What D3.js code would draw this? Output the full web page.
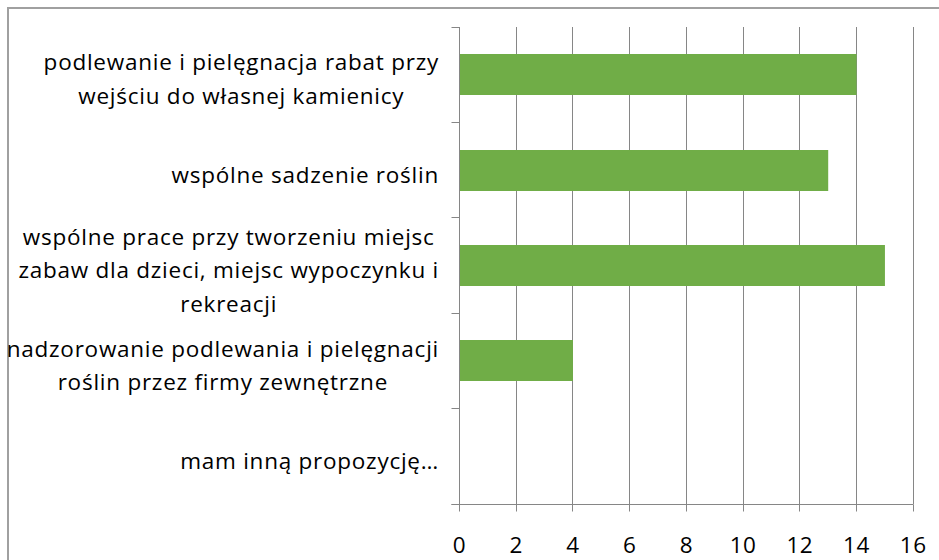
<!DOCTYPE html>
<html>
<head>
<meta charset="utf-8">
<script src="https://cdn.jsdelivr.net/npm/d3@7"></script>
<style>
  body { margin: 0; background: #fff; }
  svg { display: block; }
</style>
</head>
<body>
<div class="chartDiv"></div>
<script>

// ---------------- data ----------------
let categories = [
    ["podlewanie i pielęgnacja rabat przy", "wejściu do własnej kamienicy"],
    ["wspólne sadzenie roślin"],
    ["wspólne prace przy tworzeniu miejsc", "zabaw dla dzieci, miejsc wypoczynku i", "rekreacji"],
    ["nadzorowanie podlewania i pielęgnacji", "roślin przez firmy zewnętrzne"],
    ["mam inną propozycję…"]
];
let values = [14, 13, 15, 4, 0];
let xTicks = [0, 2, 4, 6, 8, 10, 12, 14, 16];

// ---------------- setup ----------------
let W = 939, H = 560;
let plot = {left: 459.5, right: 913.3, top: 27, bottom: 504};
let gridColor = "#868686";
let font = "'Open Sans', sans-serif";

let svg = d3.select(".chartDiv").append("svg")
    .attr("width", W)
    .attr("height", H);

// outer chart border (right/bottom fall outside the picture)
svg.append("rect")
    .attr("x", 8)
    .attr("y", 8)
    .attr("width", W + 20)
    .attr("height", H + 20)
    .attr("fill", "none")
    .attr("stroke", "#a0a0a0")
    .attr("stroke-width", 2)

let x = d3.scaleLinear().domain([0, 16]).range([plot.left, plot.right]);
let y = d3.scaleBand()
    .domain(d3.range(categories.length))
    .range([plot.top, plot.bottom])
    .paddingInner(0.57)
    .paddingOuter(0.285);

let crisp = v => Math.round(v - 0.5) + 0.5;

// vertical gridlines
svg.append("g").selectAll("line")
    .data(xTicks.slice(1))
    .join("line")
    .attr("x1", d => crisp(x(d)))
    .attr("x2", d => crisp(x(d)))
    .attr("y1", plot.top)
    .attr("y2", plot.bottom)
    .attr("stroke", gridColor)
    .attr("stroke-width", 1)

// bars
svg.append("g").selectAll("rect")
    .data(values)
    .join("rect")
    .attr("x", x(0))
    .attr("y", (d, i) => Math.round(y(i)))
    .attr("width", d => x(d) - x(0))
    .attr("height", Math.round(y.bandwidth()))
    .attr("fill", "#70ad47")

// x axis line and ticks
let xAxisG = svg.append("g")
xAxisG.append("line")
    .attr("x1", crisp(x(0)) - 8)
    .attr("x2", crisp(x(16)))
    .attr("y1", crisp(plot.bottom))
    .attr("y2", crisp(plot.bottom))
    .attr("stroke", gridColor)
xAxisG.selectAll(".tick")
    .data(xTicks)
    .join("line")
    .attr("x1", d => crisp(x(d)))
    .attr("x2", d => crisp(x(d)))
    .attr("y1", crisp(plot.bottom))
    .attr("y2", crisp(plot.bottom) + 7)
    .attr("stroke", gridColor)
xAxisG.selectAll("text")
    .data(xTicks)
    .join("text")
    .attr("x", d => x(d))
    .attr("y", 553)
    .attr("text-anchor", "middle")
    .style("font-family", font)
    .style("font-size", "22.5px")
    .style("letter-spacing", "0.6px")
    .attr("fill", "#000")
    .text(d => d)

// y axis line and ticks at band edges
let step = (plot.bottom - plot.top) / categories.length;
let yAxisG = svg.append("g")
yAxisG.append("line")
    .attr("x1", crisp(x(0)))
    .attr("x2", crisp(x(0)))
    .attr("y1", plot.top)
    .attr("y2", crisp(plot.bottom))
    .attr("stroke", gridColor)
yAxisG.selectAll(".ytick")
    .data(d3.range(categories.length + 1))
    .join("line")
    .attr("x1", crisp(x(0)) - 8)
    .attr("x2", crisp(x(0)))
    .attr("y1", d => crisp(plot.top + d * step))
    .attr("y2", d => crisp(plot.top + d * step))
    .attr("stroke", gridColor)

// category labels: centered lines, widest line right-aligned near the axis
let lineH = 33.5;
let labelRight = 439;
categories.forEach((lines, i) => {
    let center = y(i) + y.bandwidth() / 2;
    let g = svg.append("g");
    let texts = g.selectAll("text")
        .data(lines)
        .join("text")
        .attr("text-anchor", "middle")
        .style("font-family", font)
        .style("font-size", "22.5px")
        .style("letter-spacing", "0.75px")
        .attr("fill", "#000")
        .text(d => d);
    let widest = d3.max(texts.nodes(), n => n.getComputedTextLength());
    let base = center + 12.5 - (lines.length - 1) * lineH / 2;
    texts.attr("x", labelRight - widest / 2)
        .attr("y", (d, k) => base + k * lineH);
});

</script>
</body>
</html>
